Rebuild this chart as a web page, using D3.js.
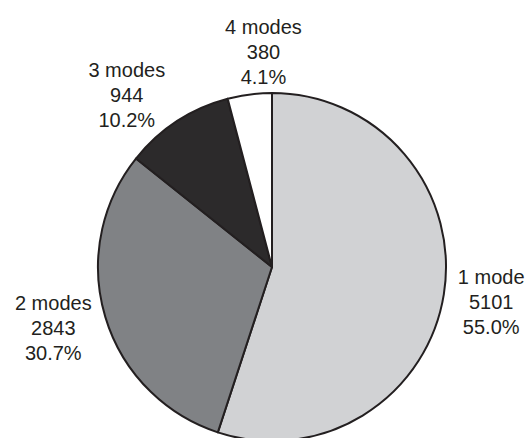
<!DOCTYPE html>
<html>
<head>
<meta charset="utf-8">
<script src="https://cdn.jsdelivr.net/npm/d3@7"></script>
<style>
  html, body { margin: 0; padding: 0; background: #fff; }
  svg { display: block; }
  text { font-family: "Liberation Sans", Arial, sans-serif; font-size: 20px; fill: #231f20; }
</style>
</head>
<body>
<svg id="chart" width="528" height="438"></svg>
<script>
// Number of modes per item, with counts
const categories = ["1 mode", "2 modes", "3 modes", "4 modes"];
const counts = [5101, 2843, 944, 380];
const fills = ["#d1d2d4", "#808285", "#2c2a2b", "#ffffff"];

const width = 528, height = 438;
const cx = 272, cy = 267, radius = 174, labelRadius = 222;

// Shift labels of the narrow top slices so they sit clear of each other
const labelShift = [[0, 0], [-6, -3], [-24, 14], [20, 5]];

const total = d3.sum(counts);
const data = categories.map((c, i) => ({ category: c, count: counts[i], i }));

const pie = d3.pie().value(d => d.count).sort(null);
const arc = d3.arc().innerRadius(0).outerRadius(radius);
const labelArc = d3.arc().innerRadius(labelRadius).outerRadius(labelRadius);

const svg = d3.select("#chart");
const g = svg.append("g").attr("transform", `translate(${cx},${cy})`);

const arcs = pie(data);

g.selectAll("path.slice")
  .data(arcs)
  .join("path")
  .attr("class", "slice")
  .attr("d", arc)
  .attr("fill", d => fills[d.data.i])
  .attr("stroke", "#231f20")
  .attr("stroke-width", 2)
  .attr("stroke-linejoin", "round");

const fmtPct = d3.format(".1%");
const lineH = 25;

const labels = g.selectAll("text.label")
  .data(arcs)
  .join("text")
  .attr("class", "label")
  .attr("text-anchor", "middle")
  .attr("transform", d => {
    const [x, y] = labelArc.centroid(d);
    const s = labelShift[d.data.i];
    return `translate(${x + s[0]},${y + s[1]})`;
  });

labels.each(function(d) {
  const t = d3.select(this);
  const lines = [d.data.category, String(d.data.count), fmtPct(d.data.count / total)];
  lines.forEach((ln, k) => {
    t.append("tspan")
      .attr("x", 0)
      .attr("y", (k - 1) * lineH + 7)
      .text(ln);
  });
});
</script>
</body>
</html>
